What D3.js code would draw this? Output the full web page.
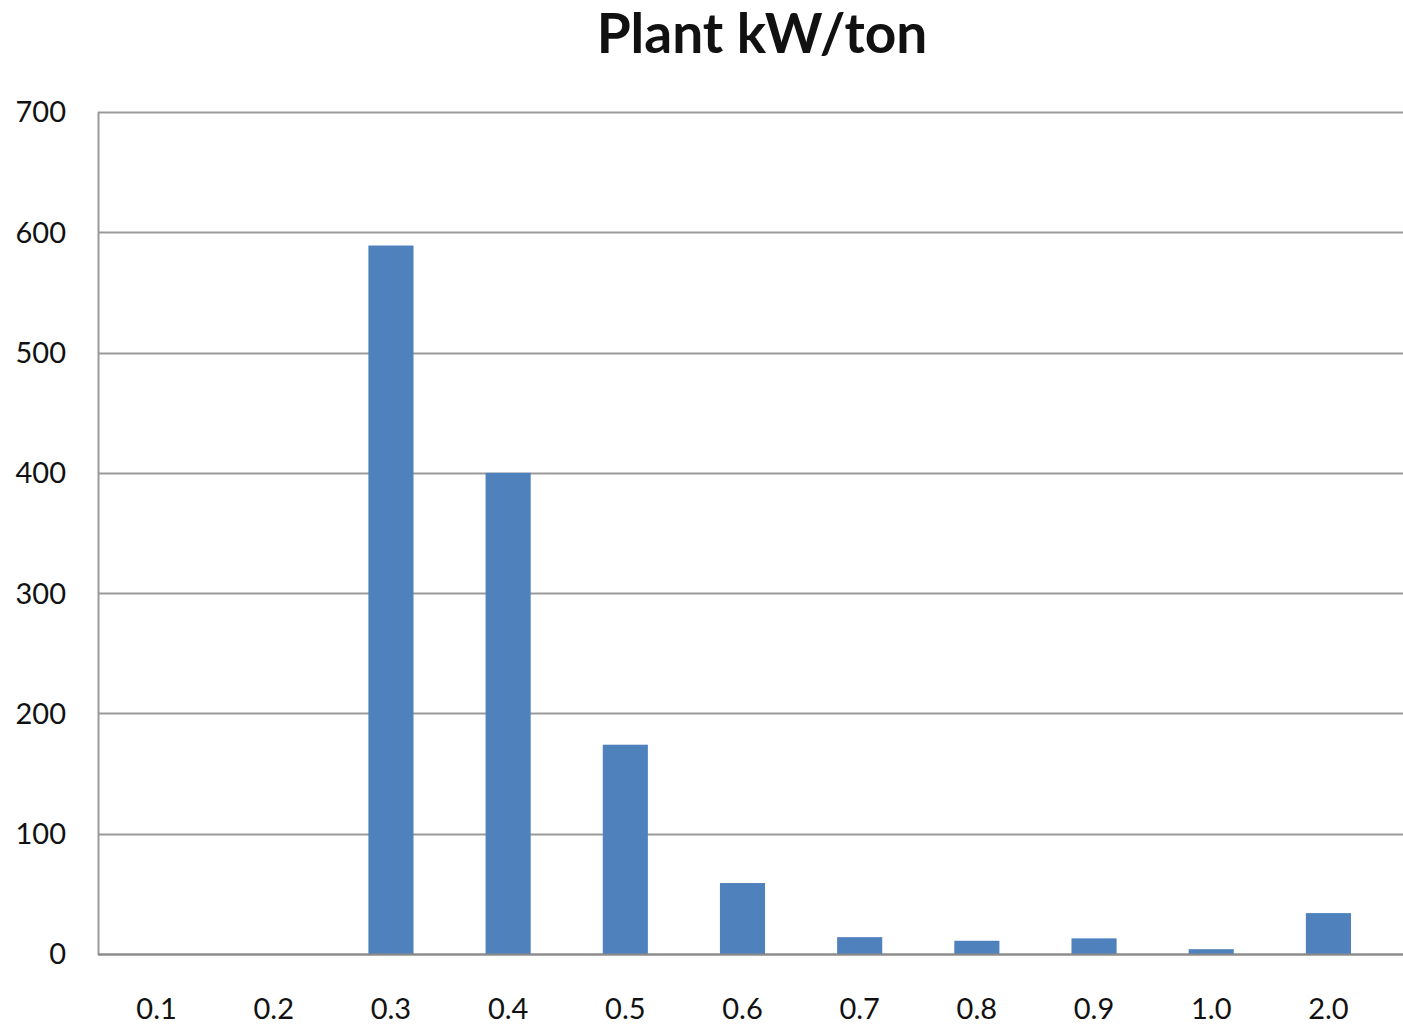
<!DOCTYPE html>
<html>
<head>
<meta charset="utf-8">
<script src="https://cdn.jsdelivr.net/npm/d3@7/dist/d3.min.js"></script>
<style>
  html, body { margin: 0; padding: 0; background: #fff; }
  svg { display: block; }
  text { font-family: Lato, "Open Sans", "Liberation Sans", sans-serif; fill: #111; }
</style>
</head>
<body>
<svg id="chart" width="1403" height="1025"></svg>
<script>
// Plant efficiency distribution (kW/ton bins)
const categories = ["0.1", "0.2", "0.3", "0.4", "0.5", "0.6", "0.7", "0.8", "0.9", "1.0", "2.0"];
const counts = [0, 0, 589, 400, 174, 59, 14, 11, 13, 4, 34];
const yTicks = [0, 100, 200, 300, 400, 500, 600, 700];
const title = "Plant kW/ton";

const svg = d3.select("#chart");
const plot = { left: 98, right: 1387, top: 112, bottom: 954, gridRight: 1403 };

const x = d3.scaleBand()
  .domain(categories)
  .range([plot.left, plot.right])
  .paddingInner(0.615)
  .paddingOuter(0.3075);

const y = d3.scaleLinear()
  .domain([0, 700])
  .range([plot.bottom, plot.top]);

// horizontal gridlines
svg.append("g")
  .selectAll("line")
  .data(yTicks)
  .join("line")
  .attr("x1", plot.left)
  .attr("x2", plot.gridRight)
  .attr("y1", d => Math.round(y(d)) + 0.5)
  .attr("y2", d => Math.round(y(d)) + 0.5)
  .attr("stroke", "#9a9a9a")
  .attr("stroke-width", 2);

// bars
svg.append("g")
  .selectAll("rect")
  .data(categories.map((c, i) => ({ c, v: counts[i] })))
  .join("rect")
  .attr("x", d => x(d.c))
  .attr("width", x.bandwidth())
  .attr("y", d => y(d.v))
  .attr("height", d => y(0) - y(d.v))
  .attr("fill", "#4f81bd");

// left axis line
svg.append("line")
  .attr("x1", plot.left + 0.5).attr("x2", plot.left + 0.5)
  .attr("y1", y(700)).attr("y2", y(0) + 1)
  .attr("stroke", "#9a9a9a").attr("stroke-width", 2);

// baseline over bars
svg.append("line")
  .attr("x1", plot.left).attr("x2", plot.gridRight)
  .attr("y1", Math.round(y(0)) + 0.5).attr("y2", Math.round(y(0)) + 0.5)
  .attr("stroke", "#8a8a8a").attr("stroke-width", 2);

// y tick labels
svg.append("g")
  .selectAll("text")
  .data(yTicks)
  .join("text")
  .attr("x", 66)
  .attr("y", d => y(d))
  .attr("dy", "0.36em")
  .attr("text-anchor", "end")
  .style("font-size", "29px")
  .text(d => d);

// x tick labels
svg.append("g")
  .selectAll("text")
  .data(categories)
  .join("text")
  .attr("x", d => x(d) + x.bandwidth() / 2)
  .attr("y", 1019)
  .attr("text-anchor", "middle")
  .style("font-size", "29px")
  .text(d => d);

// title
svg.append("text")
  .attr("x", 762)
  .attr("y", 53)
  .attr("text-anchor", "middle")
  .style("font-size", "55px")
  .style("font-weight", "bold")
  .text(title);
</script>
</body>
</html>
